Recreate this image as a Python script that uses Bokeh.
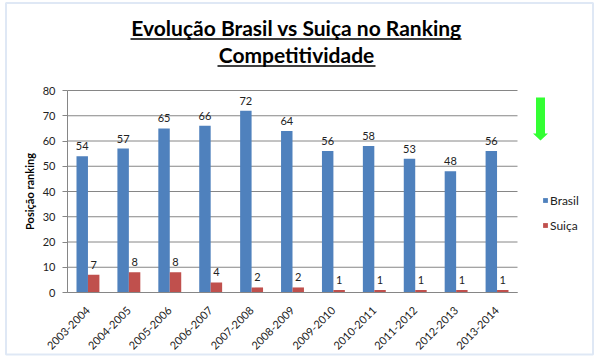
from bokeh.plotting import figure
from bokeh.models import (ColumnDataSource, FixedTicker, Label, Arrow, Range1d,
                          PolyAnnotation, BoxAnnotation, Legend, LegendItem)
from bokeh.transform import dodge
from bokeh.core.properties import value
from bokeh.embed import file_html
from bokeh.resources import INLINE
import math

periodos = ["2003-2004", "2004-2005", "2005-2006", "2006-2007", "2007-2008", "2008-2009",
            "2009-2010", "2010-2011", "2011-2012", "2012-2013", "2013-2014"]
brasil = [54, 57, 65, 66, 72, 64, 56, 58, 53, 48, 56]
suica = [7, 8, 8, 4, 2, 2, 1, 1, 1, 1, 1]
y_ticks = [0, 10, 20, 30, 40, 50, 60, 70, 80]

title_l1 = "Evolução Brasil vs Suiça no Ranking"
title_l2 = "Competitividade"

FONT = "Lato"
GRID = "#868686"
BLUE = "#4F81BD"
RED = "#C0504D"
GREEN = "#33FF33"

W, H = 598, 361
# plot-area placement on the canvas (pixels)
PA_LEFT, PA_RIGHT, PA_TOP, PA_BOTTOM = 67, 517, 90, 292
n = len(periodos)
y_max = y_ticks[-1]
sx = (PA_RIGHT - PA_LEFT) / n           # px per category
sy = (PA_BOTTOM - PA_TOP) / y_max        # px per unit
x0 = -0.5 - PA_LEFT / sx
y0 = -(H - PA_BOTTOM) / sy

def cy(page_y):  # page y -> frame screen y (up)
    return H - page_y

idx = list(range(n))
src = ColumnDataSource(dict(
    idx=idx, brasil=brasil, suica=suica,
    brasil_txt=[str(v) for v in brasil], suica_txt=[str(v) for v in suica]))

p = figure(x_range=Range1d(x0, x0 + W / sx), y_range=Range1d(y0, y0 + H / sy),
           width=W, height=H, output_backend="svg", toolbar_location=None,
           min_border=0)
p.outline_line_color = None
p.background_fill_color = "white"
p.border_fill_color = "white"
p.xgrid.visible = False
p.ygrid.visible = False

# horizontal gridlines from the tick list
p.segment(x0=-0.5, x1=n - 0.5, y0=y_ticks, y1=y_ticks, line_color=GRID, line_width=1)

r_b = p.vbar(x=dodge("idx", -0.14), top="brasil", width=0.28,
             source=src, fill_color=BLUE, line_color=None)
r_s = p.vbar(x=dodge("idx", 0.14), top="suica", width=0.28,
             source=src, fill_color=RED, line_color=None)

for col, off in (("brasil", -0.14), ("suica", 0.14)):
    p.text(x=dodge("idx", off), y=col, text=col + "_txt", source=src,
           text_align="center", text_baseline="alphabetic", y_offset=-10,
           text_font=value(FONT), text_font_size="11px", text_color="#222222")

# axes (placed inside the canvas)
p.yaxis.fixed_location = -0.5
p.yaxis.bounds = (0, y_max)
p.yaxis.ticker = FixedTicker(ticks=y_ticks)
p.yaxis.minor_tick_line_color = None
p.yaxis.major_tick_in = 0
p.yaxis.major_tick_out = 5
p.yaxis.major_tick_line_color = GRID
p.yaxis.axis_line_color = GRID
p.yaxis.major_label_standoff = 7
p.yaxis.major_label_text_font = FONT
p.yaxis.major_label_text_font_size = "11px"
p.yaxis.major_label_text_color = "#222222"
p.yaxis.axis_label = "Posição ranking"
p.yaxis.axis_label_text_font = FONT
p.yaxis.axis_label_text_font_size = "11px"
p.yaxis.axis_label_text_font_style = "bold"
p.yaxis.axis_label_text_color = "black"
p.yaxis.axis_label_standoff = 4

p.xaxis.fixed_location = 0
p.xaxis.bounds = (-0.5, n - 0.5)
p.xaxis.ticker = FixedTicker(ticks=idx)
p.xaxis.major_label_overrides = {i: lab for i, lab in zip(idx, periodos)}
p.xaxis.major_tick_line_color = None
p.xaxis.minor_tick_line_color = None
p.xaxis.axis_line_color = GRID
p.xaxis.major_label_orientation = math.pi / 4
p.xaxis.major_label_standoff = 10
p.xaxis.major_label_text_font = FONT
p.xaxis.major_label_text_font_size = "11px"
p.xaxis.major_label_text_color = "#222222"

# legend
legend = Legend(items=[LegendItem(label="Brasil", renderers=[r_b]),
                       LegendItem(label="Suiça", renderers=[r_s])],
                location=(542, cy(232.5)), border_line_color=None, background_fill_alpha=0,
                padding=0, margin=0, spacing=10, glyph_width=6, glyph_height=6,
                label_height=12, label_standoff=2, label_text_font=FONT,
                label_text_font_size="12px", label_text_color="#222222")
p.add_layout(legend)

# title (two lines, underlined)
for txt, base, ul, (ul0, ul1) in ((title_l1, 27, 38.5, (130, 461)),
                                  (title_l2, 54, 65.5, (217, 375))):
    p.add_layout(Label(x=296, y=cy(base), x_units="screen", y_units="screen", text=txt,
                       text_align="center", text_baseline="alphabetic", text_font=FONT,
                       text_font_size="21px", text_font_style="bold", text_color="black"))
    p.add_layout(Arrow(x_start=ul0, y_start=cy(ul), x_end=ul1, y_end=cy(ul),
                       start_units="screen", end_units="screen", start=None, end=None,
                       line_color="black", line_width=1.7))

# green arrow (decoration)
ax, ytop, yneck, ytip = 540, cy(97), cy(133), cy(140)
p.add_layout(PolyAnnotation(
    xs=[ax - 4.5, ax + 4.5, ax + 4.5, ax + 7.5, ax, ax - 7.5, ax - 4.5],
    ys=[ytop, ytop, yneck, yneck, ytip, yneck, yneck],
    xs_units="screen", ys_units="screen",
    fill_color=GREEN, fill_alpha=1, line_color=None))

# chart-area border
p.add_layout(BoxAnnotation(left=5.5, right=592.5, top=cy(2.5), bottom=cy(354),
                           left_units="screen", right_units="screen",
                           top_units="screen", bottom_units="screen",
                           fill_alpha=0, line_color="#95B3DE", line_width=2))

open("out.html", "w").write(file_html(p, INLINE))
